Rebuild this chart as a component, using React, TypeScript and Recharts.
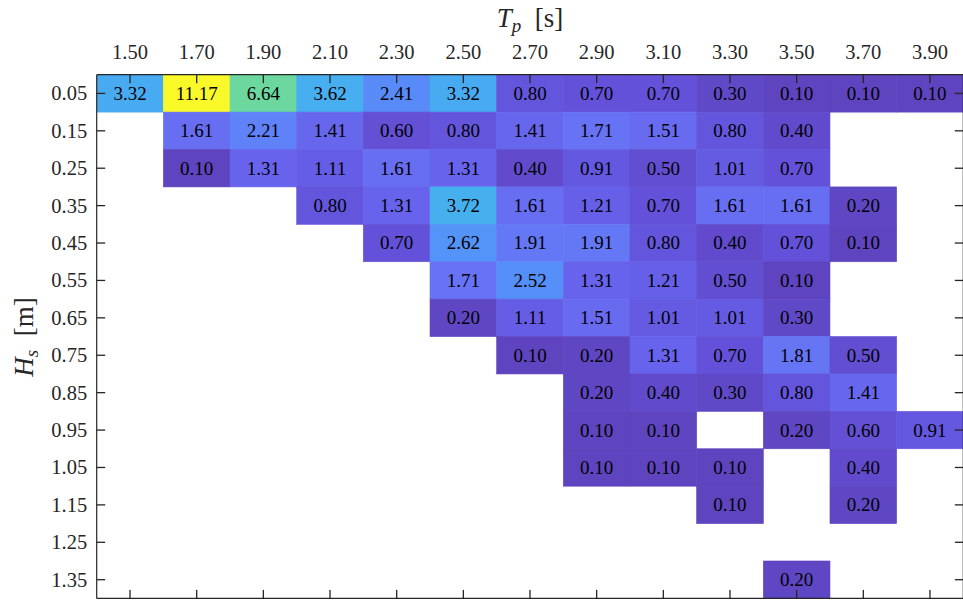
import React from 'react';
import { ScatterChart, Scatter, XAxis, YAxis } from 'recharts';

// Tp [s] columns and Hs [m] rows
const tpTicks = [1.5, 1.7, 1.9, 2.1, 2.3, 2.5, 2.7, 2.9, 3.1, 3.3, 3.5, 3.7, 3.9];
const hsTicks = [0.05, 0.15, 0.25, 0.35, 0.45, 0.55, 0.65, 0.75, 0.85, 0.95, 1.05, 1.15, 1.25, 1.35];

// occurrence (%) per Hs row, one value per Tp column (null = empty)
const hs005 = [3.32, 11.17, 6.64, 3.62, 2.41, 3.32, 0.8, 0.7, 0.7, 0.3, 0.1, 0.1, 0.1];
const hs015 = [null, 1.61, 2.21, 1.41, 0.6, 0.8, 1.41, 1.71, 1.51, 0.8, 0.4, null, null];
const hs025 = [null, 0.1, 1.31, 1.11, 1.61, 1.31, 0.4, 0.91, 0.5, 1.01, 0.7, null, null];
const hs035 = [null, null, null, 0.8, 1.31, 3.72, 1.61, 1.21, 0.7, 1.61, 1.61, 0.2, null];
const hs045 = [null, null, null, null, 0.7, 2.62, 1.91, 1.91, 0.8, 0.4, 0.7, 0.1, null];
const hs055 = [null, null, null, null, null, 1.71, 2.52, 1.31, 1.21, 0.5, 0.1, null, null];
const hs065 = [null, null, null, null, null, 0.2, 1.11, 1.51, 1.01, 1.01, 0.3, null, null];
const hs075 = [null, null, null, null, null, null, 0.1, 0.2, 1.31, 0.7, 1.81, 0.5, null];
const hs085 = [null, null, null, null, null, null, null, 0.2, 0.4, 0.3, 0.8, 1.41, null];
const hs095 = [null, null, null, null, null, null, null, 0.1, 0.1, null, 0.2, 0.6, 0.91];
const hs105 = [null, null, null, null, null, null, null, 0.1, 0.1, 0.1, null, 0.4, null];
const hs115 = [null, null, null, null, null, null, null, null, null, 0.1, null, 0.2, null];
const hs125 = [null, null, null, null, null, null, null, null, null, null, null, null, null];
const hs135 = [null, null, null, null, null, null, null, null, null, null, 0.2, null, null];

const rows = [hs005, hs015, hs025, hs035, hs045, hs055, hs065, hs075, hs085, hs095, hs105, hs115, hs125, hs135];

const cells: { tp: number; hs: number; v: number }[] = [];
rows.forEach((row, j) =>
  row.forEach((v, i) => {
    if (v != null) cells.push({ tp: tpTicks[i], hs: hsTicks[j], v });
  })
);

const vMin = Math.min(...cells.map((c) => c.v));
const vMax = Math.max(...cells.map((c) => c.v));

// parula-like colormap, as seen with face alpha over white
const stops: [number, number[]][] = [
  [0.0, [94, 68, 190]],
  [0.06, [100, 84, 220]],
  [0.11, [103, 99, 236]],
  [0.14, [104, 112, 243]],
  [0.19, [95, 130, 248]],
  [0.22, [86, 144, 248]],
  [0.29, [72, 170, 240]],
  [0.33, [70, 176, 238]],
  [0.45, [62, 198, 200]],
  [0.59, [108, 216, 160]],
  [0.75, [190, 205, 80]],
  [0.87, [250, 195, 62]],
  [1.0, [249, 249, 42]],
];

function colorFor(v: number) {
  const t = (v - vMin) / (vMax - vMin);
  for (let k = 1; k < stops.length; k++) {
    const [t1, c1] = stops[k];
    const [t0, c0] = stops[k - 1];
    if (t <= t1) {
      const f = (t - t0) / (t1 - t0);
      const c = c0.map((a, n) => Math.round(a + (c1[n] - a) * f));
      return `rgb(${c[0]},${c[1]},${c[2]})`;
    }
  }
  return 'rgb(249,249,42)';
}

const W = 980;
const H = 600;
const LEFT = 96.7;
const TOP = 74.7;
const RIGHT_W = W - 963.3;
const BOTTOM_H = 1.6;
const PLOT_W = W - LEFT - RIGHT_W;
const PLOT_H = H - TOP - BOTTOM_H;
const X_DOMAIN = [1.4, 4.0];
const Y_DOMAIN = [0, 1.4];
const CELL_W = (PLOT_W * 0.2) / (X_DOMAIN[1] - X_DOMAIN[0]);
const CELL_H = (PLOT_H * 0.1) / (Y_DOMAIN[1] - Y_DOMAIN[0]);

const FONT = '"Liberation Serif", "Times New Roman", serif';
const AXIS = '#262626';
const TICK_LEN = 8.5;
const TICK_W = 1.3;

const CellShape = (props: any) => {
  const { cx, cy, payload } = props;
  const fill = colorFor(payload.v);
  return (
    <g>
      <rect
        x={cx - CELL_W / 2}
        y={cy - CELL_H / 2}
        width={CELL_W}
        height={CELL_H}
        fill={fill}
        stroke={fill}
        strokeWidth={0.6}
      />
      <text x={cx} y={cy} dy="0.34em" textAnchor="middle" fontSize={19} fontFamily={FONT} fill="#000">
        {payload.v.toFixed(2)}
      </text>
    </g>
  );
};

// ticks point into the plot, like MATLAB's default (drawn as thin rects)
const TopTick = (props: any) => {
  const { x, payload } = props;
  return (
    <g>
      <rect x={x - TICK_W / 2} y={TOP} width={TICK_W} height={TICK_LEN} fill={AXIS} />
      <text x={x} y={TOP - 23} dy="0.34em" textAnchor="middle" fontSize={20.5} fontFamily={FONT} fill={AXIS}>
        {Number(payload.value).toFixed(2)}
      </text>
    </g>
  );
};

const BottomTick = (props: any) => {
  const { x } = props;
  return <rect x={x - TICK_W / 2} y={H - BOTTOM_H - TICK_LEN} width={TICK_W} height={TICK_LEN} fill={AXIS} />;
};

const LeftTick = (props: any) => {
  const { y, payload } = props;
  return (
    <g>
      <rect x={LEFT} y={y - TICK_W / 2} width={TICK_LEN} height={TICK_W} fill={AXIS} />
      <text x={LEFT - 9.5} y={y} dy="0.34em" textAnchor="end" fontSize={20.5} fontFamily={FONT} fill={AXIS}>
        {Number(payload.value).toFixed(2)}
      </text>
    </g>
  );
};

const RightTick = (props: any) => {
  const { y } = props;
  const xr = W - RIGHT_W;
  return <rect x={xr - TICK_LEN} y={y - TICK_W / 2} width={TICK_LEN} height={TICK_W} fill={AXIS} />;
};

const NoLabel = () => <g />;
const NoShape = () => <g />;

// overlay = false draws the cells only, overlay = true draws the axes box on top
function HeatChart({ overlay }: { overlay: boolean }) {
  const axisCommon = {
    type: 'number' as const,
    allowDataOverflow: true,
    tickSize: 0,
    tickMargin: 0,
    tickLine: false,
    axisLine: overlay ? { stroke: AXIS, strokeWidth: 1.2 } : false,
    interval: 0 as const,
  };
  return (
    <ScatterChart width={W} height={H} margin={{ top: 0, right: 0, bottom: 0, left: 0 }}>
      <Scatter
        data={cells}
        xAxisId="top"
        yAxisId="left"
        shape={overlay ? <NoShape /> : <CellShape />}
        isAnimationActive={false}
      />
      <Scatter data={cells} xAxisId="bottom" yAxisId="right" shape={<NoShape />} isAnimationActive={false} />
      <XAxis
        {...axisCommon}
        xAxisId="top"
        orientation="top"
        dataKey="tp"
        domain={X_DOMAIN}
        ticks={tpTicks}
        height={TOP}
        tick={overlay ? <TopTick /> : <NoLabel />}
      />
      <XAxis
        {...axisCommon}
        xAxisId="bottom"
        orientation="bottom"
        dataKey="tp"
        domain={X_DOMAIN}
        ticks={tpTicks}
        height={BOTTOM_H}
        tick={overlay ? <BottomTick /> : <NoLabel />}
      />
      <YAxis
        {...axisCommon}
        yAxisId="left"
        orientation="left"
        dataKey="hs"
        domain={Y_DOMAIN}
        ticks={hsTicks}
        reversed
        width={LEFT}
        tick={overlay ? <LeftTick /> : <NoLabel />}
      />
      <YAxis
        {...axisCommon}
        yAxisId="right"
        orientation="right"
        dataKey="hs"
        domain={Y_DOMAIN}
        ticks={hsTicks}
        reversed
        width={RIGHT_W}
        tick={overlay ? <RightTick /> : <NoLabel />}
      />
    </ScatterChart>
  );
}

export default function App() {
  return (
    <div
      style={{
        position: 'absolute',
        left: 0,
        top: 0,
        width: 963,
        height: 600,
        overflow: 'hidden',
        background: '#fff',
      }}
    >
      <div style={{ position: 'absolute', left: 0, top: 0, zIndex: 1 }}>
        <HeatChart overlay={false} />
      </div>
      <div style={{ position: 'absolute', left: 0, top: 0, zIndex: 2 }}>
        <HeatChart overlay={true} />
      </div>
      <div
        style={{
          position: 'absolute',
          left: LEFT,
          width: PLOT_W,
          top: 2,
          zIndex: 3,
          textAlign: 'center',
          fontFamily: FONT,
          fontSize: 27,
          color: AXIS,
          lineHeight: '32px',
          pointerEvents: 'none',
        }}
      >
        <i>T</i>
        <sub style={{ fontSize: 19, fontStyle: 'italic', verticalAlign: -5 }}>p</sub>
        {'\u00a0\u00a0[s]'}
      </div>
      <div
        style={{
          position: 'absolute',
          left: 24 - 60,
          top: 336.5 - 16,
          width: 120,
          height: 32,
          zIndex: 3,
          transform: 'rotate(-90deg)',
          textAlign: 'center',
          fontFamily: FONT,
          fontSize: 27,
          color: AXIS,
          lineHeight: '32px',
          whiteSpace: 'nowrap',
          pointerEvents: 'none',
        }}
      >
        <i>H</i>
        <sub style={{ fontSize: 19, fontStyle: 'italic', verticalAlign: -5 }}>s</sub>
        {'\u00a0\u00a0[m]'}
      </div>
    </div>
  );
}
